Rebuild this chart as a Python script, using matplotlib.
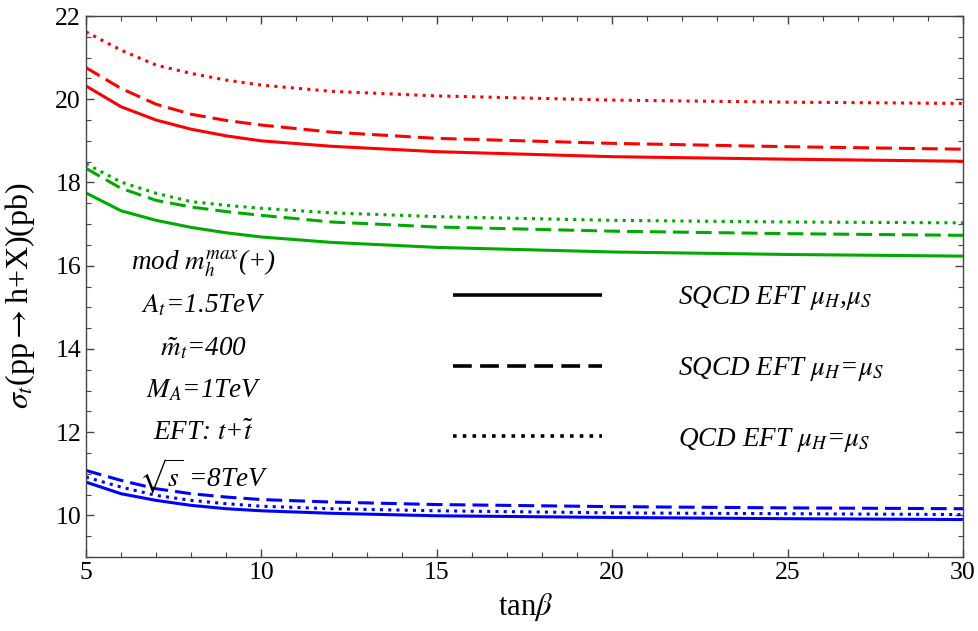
import numpy as np
import matplotlib
matplotlib.use('Agg')
import matplotlib.pyplot as plt
from matplotlib.lines import Line2D
from matplotlib.ticker import MultipleLocator

plt.rcParams['font.family'] = 'Liberation Serif'
plt.rcParams['mathtext.fontset'] = 'stix'

### Data
tanb = [5, 6, 7, 8, 9, 10, 12, 15, 20, 25, 30]

red_solid  = [20.32, 19.82, 19.50, 19.28, 19.12, 19.00, 18.87, 18.74, 18.62, 18.56, 18.51]
red_dash   = [20.76, 20.26, 19.88, 19.64, 19.49, 19.38, 19.21, 19.06, 18.94, 18.86, 18.80]
red_dot    = [21.62, 21.18, 20.82, 20.62, 20.46, 20.34, 20.19, 20.08, 19.98, 19.93, 19.90]

green_solid = [17.75, 17.32, 17.09, 16.92, 16.79, 16.69, 16.56, 16.44, 16.33, 16.27, 16.23]
green_dash  = [18.34, 17.86, 17.57, 17.41, 17.30, 17.21, 17.05, 16.93, 16.83, 16.77, 16.73]
green_dot   = [18.45, 18.01, 17.74, 17.54, 17.45, 17.38, 17.27, 17.18, 17.09, 17.05, 17.03]

blue_solid = [10.80, 10.52, 10.36, 10.24, 10.16, 10.11, 10.05, 9.99, 9.95, 9.92, 9.90]
blue_dash  = [11.08, 10.84, 10.64, 10.52, 10.44, 10.38, 10.32, 10.26, 10.21, 10.18, 10.16]
blue_dot   = [10.92, 10.68, 10.48, 10.36, 10.28, 10.22, 10.16, 10.11, 10.06, 10.04, 10.02]

legend_labels = ['SQCD EFT $\\mu_H$,$\\mu_S$',
                 'SQCD EFT $\\mu_H$=$\\mu_S$',
                 'QCD EFT $\\mu_H$=$\\mu_S$']
info_lines = ['mod $m_h^{max}$(+)', '$A_t$=1.5TeV', '$\\tilde{m}_t$=400',
              '$M_A$=1TeV', 'EFT: $t$+$\\tilde{t}$', '$\\sqrt{s}$ =8TeV']

RED, GREEN, BLUE = '#ff0000', '#00aa00', '#0000ff'
LW = 2.2
DASH = (5.2, 2.3)
DOT = (1.0, 1.7)

fig = plt.figure(figsize=(9.79, 6.31), dpi=100)
ax = fig.add_axes([0.0878, 0.1173, 0.8959, 0.8573])

for col, s, d, o in [(RED, red_solid, red_dash, red_dot),
                     (GREEN, green_solid, green_dash, green_dot),
                     (BLUE, blue_solid, blue_dash, blue_dot)]:
    ax.plot(tanb, s, color=col, lw=LW, solid_capstyle='butt')
    ax.plot(tanb, d, color=col, lw=LW, dashes=DASH, dash_capstyle='butt')
    ax.plot(tanb, o, color=col, lw=LW, dashes=DOT, dash_capstyle='butt')

ax.set_xlim(5, 30)
ax.set_ylim(9, 22)
ax.xaxis.set_major_locator(MultipleLocator(5))
ax.xaxis.set_minor_locator(MultipleLocator(1))
ax.yaxis.set_major_locator(MultipleLocator(2))
ax.yaxis.set_minor_locator(MultipleLocator(0.5))
ax.tick_params(which='both', direction='in', top=True, right=True, labelsize=18.5, color='#444444')
ax.tick_params(which='major', length=6, width=1)
ax.tick_params(which='minor', length=3.5, width=0.8)
for sp in ax.spines.values():
    sp.set_color('#444444')
    sp.set_linewidth(1.0)

ax.set_xlabel('tan$\\beta$', fontsize=22)
ax.set_ylabel('$\\sigma_t$(pp$\\rightarrow$h+X)(pb)', fontsize=23)
ax.xaxis.set_label_coords(0.5006, -0.062)
ax.yaxis.set_label_coords(-0.056, 0.484)

### Parameter block
ys = [16.05, 15.05, 14.02, 13.0, 11.97, 10.95]
for txt, yy in zip(info_lines, ys):
    ax.text(8.36, yy, txt, ha='center', va='center', fontsize=19.5, style='italic')

### Legend in black
handles = [Line2D([], [], color='black', lw=2.6, solid_capstyle='butt'),
           Line2D([], [], color='black', lw=2.6, dashes=DASH, dash_capstyle='butt'),
           Line2D([], [], color='black', lw=2.6, dashes=DOT, dash_capstyle='butt')]
ax.legend(handles, legend_labels, loc='center left', bbox_to_anchor=(0.4185, 0.3475),
          frameon=False, borderpad=0, borderaxespad=0, handlelength=5.5,
          handletextpad=2.8, labelspacing=1.58,
          prop={'family': 'Liberation Serif', 'style': 'italic', 'size': 19.5})

fig.savefig('out.png', dpi=100)
